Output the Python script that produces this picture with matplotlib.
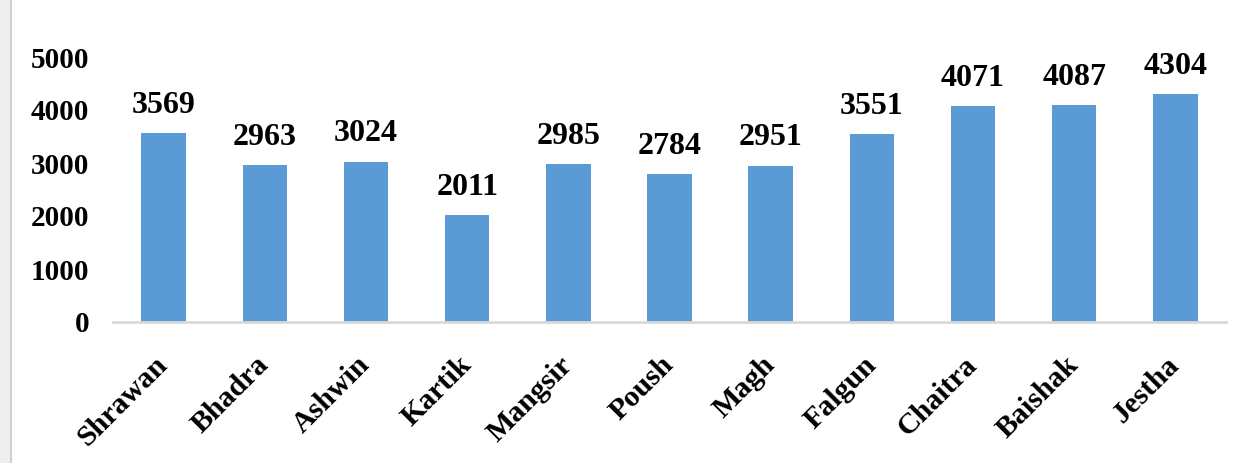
import matplotlib
matplotlib.use("Agg")
import matplotlib.pyplot as plt
from matplotlib.patches import Rectangle

months = ["Shrawan", "Bhadra", "Ashwin", "Kartik", "Mangsir", "Poush", "Magh",
          "Falgun", "Chaitra", "Baishak", "Jestha"]
values = [3569, 2963, 3024, 2011, 2985, 2784, 2951, 3551, 4071, 4087, 4304]
yticks = [0, 1000, 2000, 3000, 4000, 5000]

plt.rcParams['font.family'] = ['Liberation Serif', 'DejaVu Serif']
plt.rcParams['font.weight'] = 'bold'

fig = plt.figure(figsize=(12.46, 4.63), dpi=100)
fig.patches.append(Rectangle((0, 0), 10/1246, 1, transform=fig.transFigure,
                             facecolor='#efefef', edgecolor='none', zorder=0))
fig.patches.append(Rectangle((10/1246, 0), 2/1246, 1, transform=fig.transFigure,
                             facecolor='#d0d0d0', edgecolor='none', zorder=0))

ax = fig.add_axes([113/1246, 1 - 322/463, (1226 - 113)/1246, (322 - 57)/463])
x = list(range(len(months)))
bars = ax.bar(x, values, width=0.44, color='#5b9bd5', zorder=2)
for xi, v in zip(x, values):
    ax.text(xi, v + 250, str(v), ha='center', va='bottom', fontsize=23, fontweight='bold')

ax.set_xlim(-0.5, len(months) - 0.5)
ax.set_ylim(0, 5000)
ax.set_yticks(yticks)
ax.set_yticklabels([str(t) for t in yticks], fontsize=21, fontweight='bold')
ax.set_xticks(x)
ax.set_xticklabels(months, rotation=45, ha='right', va='center', rotation_mode='anchor',
                   fontsize=21.5, fontweight='bold')
ax.tick_params(axis='y', length=0, pad=17)
ax.tick_params(axis='x', length=0, pad=28)
for s in ['top', 'right', 'left']:
    ax.spines[s].set_visible(False)
ax.spines['bottom'].set_color('#d9d9d9')
ax.spines['bottom'].set_linewidth(2)

fig.savefig("out.png", dpi=100)
